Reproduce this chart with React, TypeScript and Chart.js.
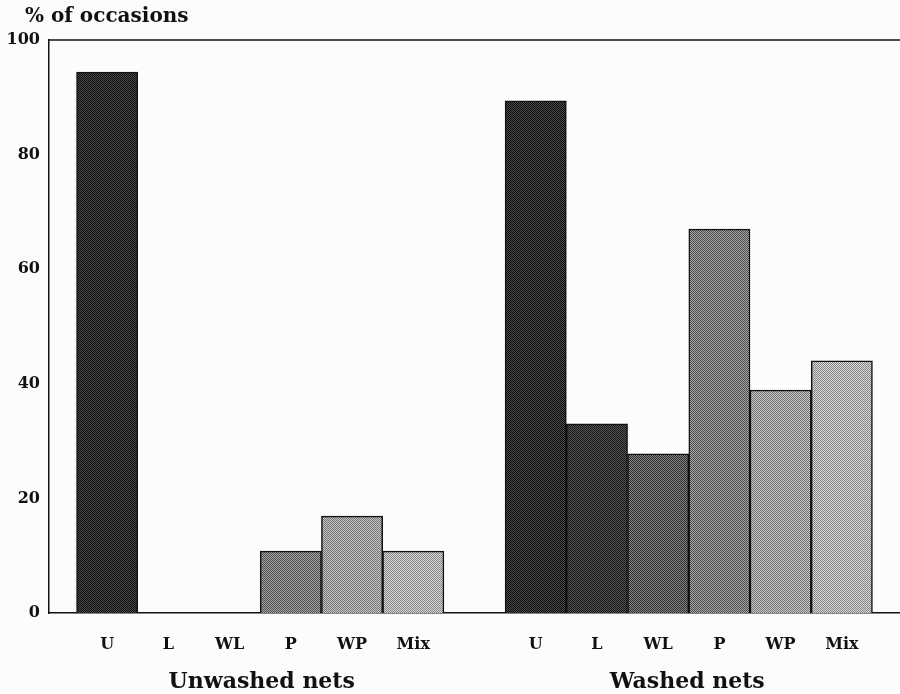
import React, { useEffect, useRef } from "react";
import { Chart, registerables } from "chart.js";

Chart.register(...registerables);

const categories = ["U", "L", "WL", "P", "WP", "Mix"];
const groups = ["Unwashed nets", "Washed nets"];
const unwashed = [94.4, 0, 0, 10.8, 16.9, 10.8];
const washed = [89.4, 33.0, 27.8, 67.0, 38.9, 44.0];
const yTicks = [0, 20, 40, 60, 80, 100];
const yTitle = "% of occasions";

// checker shades per category (dark, light)
const shades: [string, string][] = [
  ["#0e0e0e", "#4a4a4a"],
  ["#161616", "#555555"],
  ["#2e2e2e", "#858585"],
  ["#4a4a4a", "#a8a8a8"],
  ["#727272", "#c8c8c8"],
  ["#858585", "#d8d8d8"],
];

const FONT = "'DejaVu Serif', 'Liberation Serif', serif";

function makePattern(a: string, b: string): CanvasPattern | string {
  const c = document.createElement("canvas");
  c.width = 2;
  c.height = 2;
  const g = c.getContext("2d");
  if (!g) return a;
  g.fillStyle = b;
  g.fillRect(0, 0, 2, 2);
  g.fillStyle = a;
  g.fillRect(0, 0, 1, 1);
  g.fillRect(1, 1, 1, 1);
  const p = g.createPattern(c, "repeat");
  return p || a;
}

export default function App() {
  const ref = useRef<HTMLCanvasElement | null>(null);
  useEffect(() => {
    if (!ref.current) return;
    const patterns = shades.map(([a, b]) => makePattern(a, b));
    const points: { x: number; y: number }[] = [];
    const colors: (CanvasPattern | string)[] = [];
    const tickVals: number[] = [];
    unwashed.forEach((v, i) => {
      points.push({ x: i, y: v });
      colors.push(patterns[i]);
      tickVals.push(i);
    });
    washed.forEach((v, i) => {
      const x = i + categories.length + 1;
      points.push({ x, y: v });
      colors.push(patterns[i]);
      tickVals.push(x);
    });
    const labelAt = (v: number) => {
      const r = Math.round(v);
      if (r >= 0 && r < categories.length) return categories[r];
      const k = r - categories.length - 1;
      if (k >= 0 && k < categories.length) return categories[k];
      return "";
    };
    const frame = {
      id: "frame",
      afterDraw(chart: any) {
        const { ctx, chartArea } = chart;
        ctx.save();
        ctx.strokeStyle = "#111";
        ctx.lineWidth = 1.5;
        ctx.beginPath();
        ctx.moveTo(chartArea.left, chartArea.top);
        ctx.lineTo(chartArea.right, chartArea.top);
        ctx.stroke();
        ctx.fillStyle = "#111";
        ctx.font = `bold 20px ${FONT}`;
        ctx.textAlign = "left";
        ctx.textBaseline = "middle";
        ctx.fillText(yTitle, chartArea.left - 24, chartArea.top - 23);
        ctx.restore();
      },
    };
    const chart = new Chart(ref.current, {
      type: "bar",
      data: {
        datasets: [
          {
            data: points as any,
            backgroundColor: colors as any,
            borderColor: "#111",
            borderWidth: 1.5,
            barPercentage: 1,
            categoryPercentage: 1,
          },
        ],
      },
      options: {
        responsive: false,
        animation: false,
        layout: { padding: { top: 40, right: 0, bottom: 0, left: 0 } },
        plugins: { legend: { display: false }, tooltip: { enabled: false } },
        scales: {
          x: {
            type: "linear",
            position: "bottom",
            min: -0.95,
            max: 12.95,
            offset: false,
            weight: 0,
            grid: { display: false, drawTicks: false },
            border: { display: true, color: "#111", width: 1.5 },
            afterBuildTicks: (s: any) => {
              s.ticks = tickVals.map((v) => ({ value: v }));
            },
            afterFit: (s: any) => {
              s.height = 45;
            },
            ticks: {
              autoSkip: false,
              maxRotation: 0,
              padding: 22,
              color: "#111",
              font: { family: FONT, size: 16, weight: "bold" },
              callback: (v: any) => labelAt(Number(v)),
            },
          },
          x2: {
            type: "category",
            position: "bottom",
            labels: groups,
            offset: true,
            weight: 1,
            grid: { display: false, drawTicks: false },
            border: { display: false },
            afterFit: (s: any) => {
              s.height = 36;
            },
            ticks: {
              padding: 11,
              maxRotation: 0,
              color: "#111",
              font: { family: FONT, size: 22, weight: "bold" },
            },
          },
          y: {
            min: 0,
            max: 100,
            grid: { display: false, drawTicks: false },
            border: { display: true, color: "#111", width: 1.5 },
            afterFit: (s: any) => {
              s.width = 49;
            },
            afterBuildTicks: (s: any) => {
              s.ticks = yTicks.map((v) => ({ value: v }));
            },
            ticks: {
              padding: 9,
              color: "#111",
              font: { family: FONT, size: 16, weight: "bold" },
            },
          },
        } as any,
      },
      plugins: [frame],
    });
    return () => chart.destroy();
  }, []);
  return (
    <div style={{ position: "fixed", left: 0, top: 0, width: 900, height: 694, background: "#fcfcfc" }}>
      <canvas ref={ref} width={900} height={694} style={{ display: "block" }} />
    </div>
  );
}
